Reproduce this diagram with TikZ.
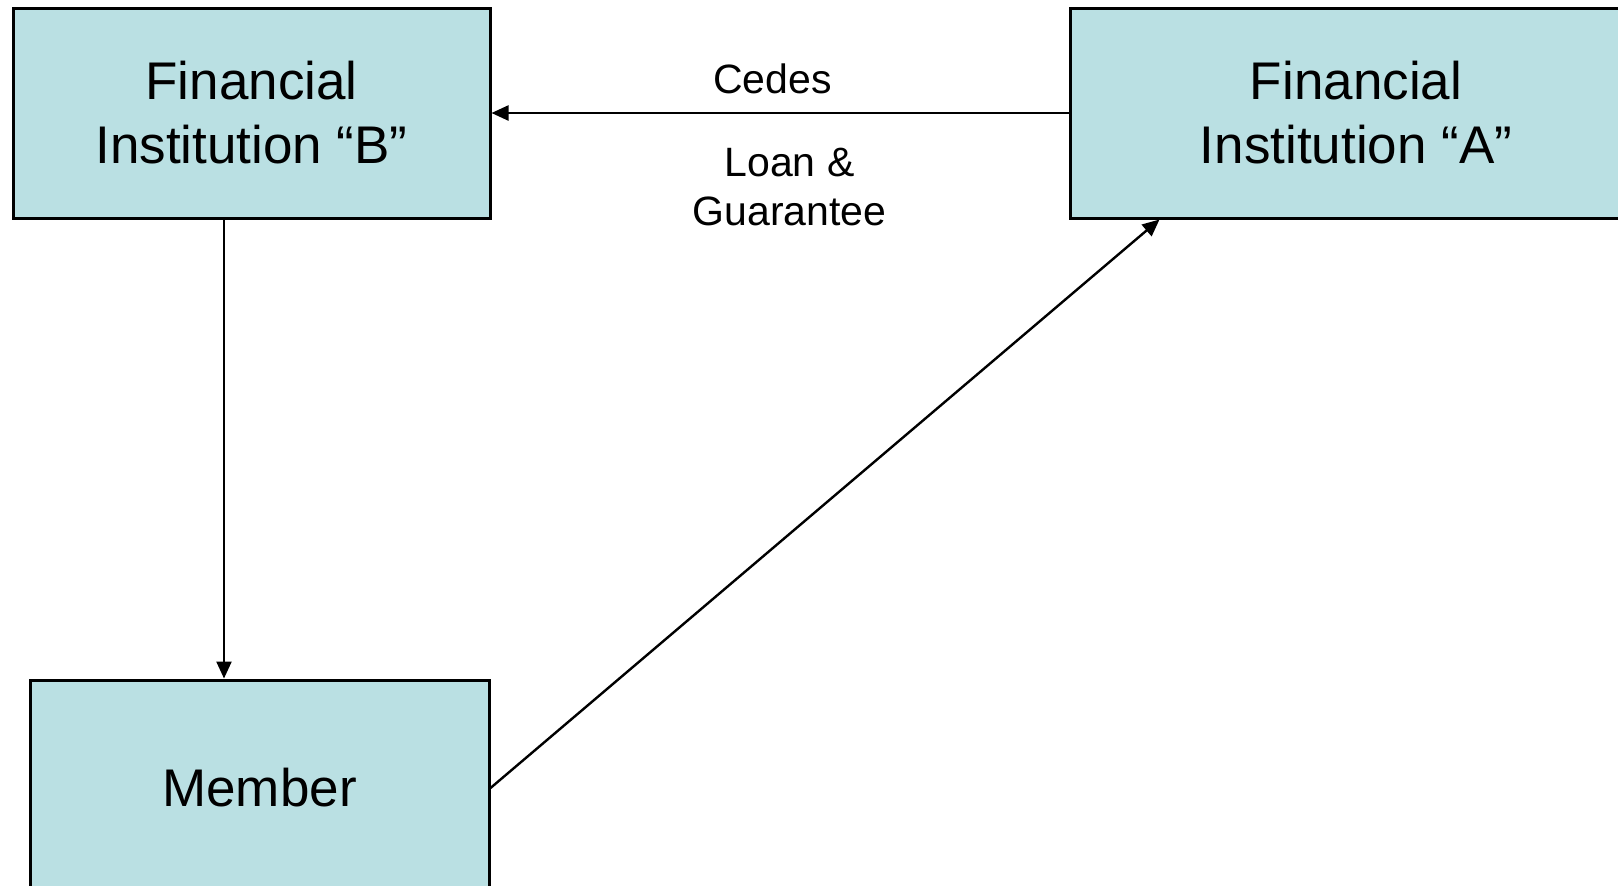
\documentclass[tikz,border=0pt]{standalone}
\usepackage{fontspec}
\setmainfont{Liberation Sans}
\usetikzlibrary{positioning}
\usetikzlibrary{arrows.meta}
\definecolor{boxfill}{RGB}{186,224,227}

\begin{document}
\begin{tikzpicture}[
         party/.style = {draw, line width=1.5pt, fill=boxfill, inner sep=0pt,
         align=center, font=\fontsize{26.5}{32}\selectfont},
         link/.style = {line width=1.2pt, -{Triangle[length=8.5pt,width=7.5pt]}},
         flowlabel/.style = {inner sep=0pt, align=center,
         font=\fontsize{20.5}{24.5}\selectfont}
]
         \clip (0,0) rectangle (809pt,-442.5pt);

         \node[party, minimum width=238.5pt, minimum height=105pt]
            at (125.75pt,-56.5pt)                          (B) {Financial\\Institution “B”};
         \node[party, minimum width=286pt, minimum height=105pt,
            right=288.5pt of B]                            (A) {Financial\\Institution “A”};
         \node[party, minimum width=229.5pt, minimum height=108pt,
            below=229.5pt of B, xshift=4pt]                (Member) {Member};

         % cession of the loan
         \draw[link] (A.west) --
            node[flowlabel, above=9pt, xshift=-3.75pt] (cedes) {Cedes}
            node[flowlabel, below=17pt, xshift=4.75pt] (loan) {Loan \&\\Guarantee}
            (B.east);

         % loan to the member
         \coordinate[xshift=-13.75pt] (bm) at (B.south);
         \draw[link] (bm) -- (bm |- Member.north);

         % repayment
         \draw[link] (Member.east) -- ([xshift=45.5pt]A.south west);
\end{tikzpicture}
\end{document}
